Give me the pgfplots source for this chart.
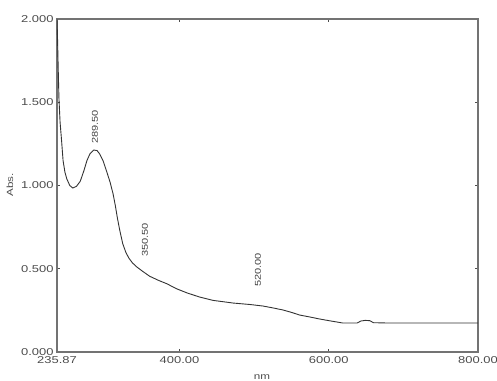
\documentclass[border=0pt]{standalone}
\usepackage{pgfplots}
\pgfplotsset{compat=1.18}
\usepackage{fontspec}
\setmainfont{Liberation Sans}[FakeStretch=1.3]
\begin{document}
\begin{tikzpicture}
\useasboundingbox (-57bp,-29bp) rectangle (440bp,352bp);
\begin{axis}[
  at={(0,0)}, anchor=south west,
  scale only axis, width=421bp, height=333bp,
  xmin=235.87, xmax=800, ymin=0, ymax=2,
  xtick={235.87,400,600,800},
  xticklabels={235.87,400.00,600.00,800.00},
  ytick={0,0.5,1,1.5,2},
  yticklabels={0.000,0.500,1.000,1.500,2.000},
  tick align=inside, major tick length=3bp,
  tick style={black!70, line width=0.8pt},
  axis line style={black!55, line width=1.4pt},
  ticklabel style={font=\fontsize{10}{11}\selectfont, text=black!70},
  xticklabel style={yshift=-1bp},
  clip=true,
]
\addplot[black!80, line width=0.9pt] coordinates {
(235.87,2.000) (236.5,1.90) (237.5,1.70) (238.5,1.52) (240,1.38) (242,1.27)
(244,1.15) (246.5,1.08) (249,1.04) (253,1.00) (257,0.985) (262,0.995)
(267,1.025) (272,1.09) (276,1.15) (280,1.19) (285,1.213) (289.5,1.21)
(293,1.19) (297.5,1.15) (302,1.09) (307,1.02) (311,0.95) (314,0.88)
(317,0.80) (320,0.73) (324,0.65) (328,0.60) (332,0.565) (337,0.535)
(343,0.51) (350.5,0.485) (360,0.455) (372,0.43) (383,0.41) (396,0.38)
(410,0.355) (427,0.33) (445,0.31) (472,0.294) (495,0.285) (512,0.276)
(525,0.265) (539,0.252) (550,0.238) (561,0.222) (575,0.21) (588,0.198)
(603,0.186) (619,0.174) (638,0.174) (643,0.186) (649,0.190) (655,0.188)
(660,0.176) (680,0.174) (800,0.174)
};
\end{axis}
\begin{scope}[every node/.style={font=\fontsize{8.5}{9}\selectfont, text=black!75, rotate=90, inner sep=0pt}]
\node at (38bp,225bp) {289.50};
\node at (88bp,112bp) {350.50};
\node at (201bp,82bp) {520.00};
\end{scope}
\node[font=\fontsize{9}{10}\selectfont, text=black!70, rotate=90, inner sep=0pt] at (-47bp,167bp) {Abs.};
\node[font=\fontsize{9}{10}\selectfont, text=black!70, inner sep=0pt, anchor=base] at (205bp,-27bp) {nm};
\end{tikzpicture}
\end{document}
